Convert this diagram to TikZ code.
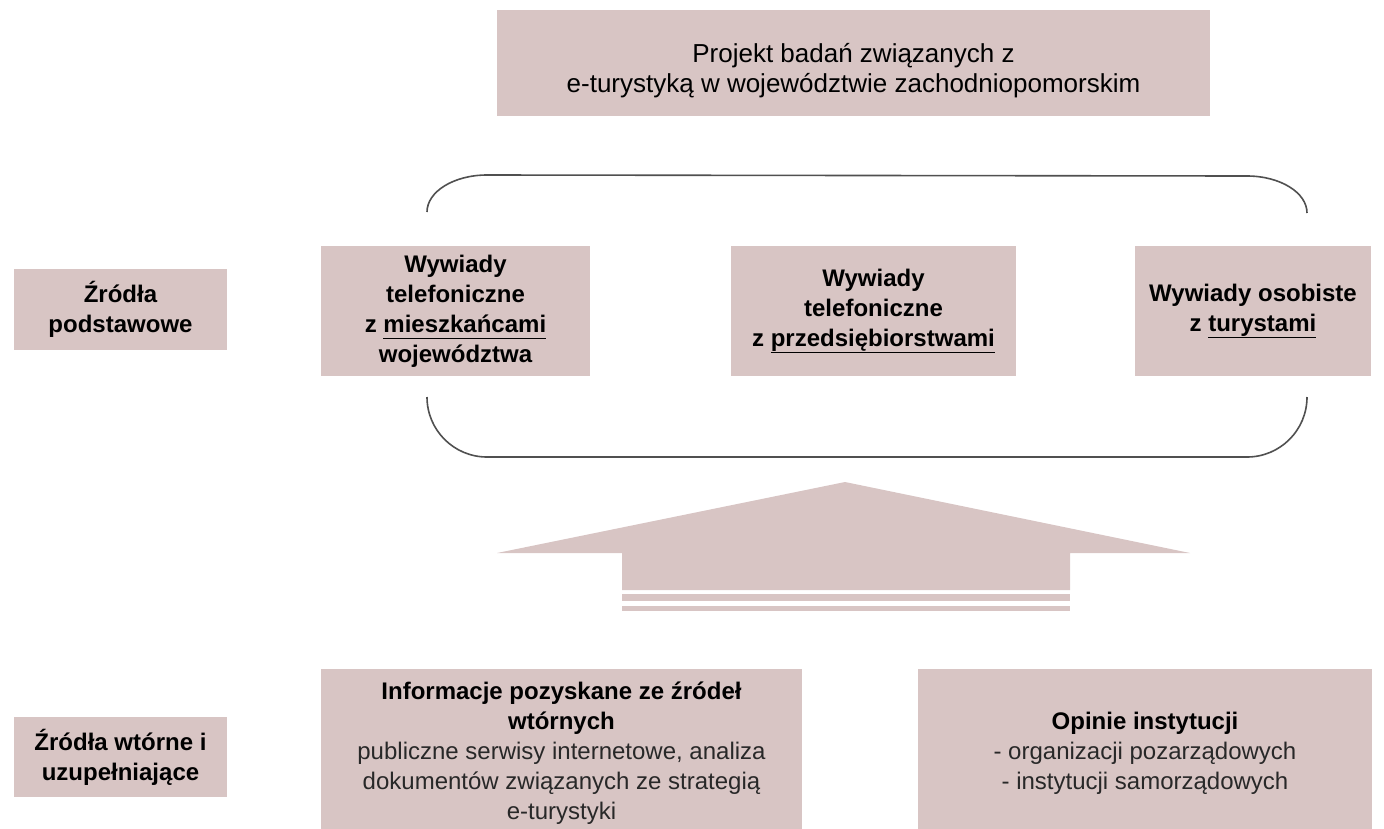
\documentclass[tikz,border=0pt]{standalone}
\usepackage{fontspec}
\setmainfont{Liberation Sans}
\definecolor{boxfill}{RGB}{216,197,196}
\definecolor{braceline}{RGB}{80,80,80}
\definecolor{bodytext}{RGB}{40,40,40}
\newcommand{\ulword}[1]{\underline{\vphantom{pę}#1}}

\begin{document}
\begin{tikzpicture}[x=1pt,y=-1pt,
  panel/.style={fill=boxfill, draw=none, inner sep=0pt, align=center, text=black},
  plaintext/.style={inner sep=0pt, align=center, text=black},
  headfont/.style={font=\fontsize{24}{30}\selectfont\bfseries},
  bodyfont/.style={font=\fontsize{24}{30}\selectfont},
  titlefont/.style={font=\fontsize{26}{30}\selectfont},
  brace/.style={draw=braceline, line width=1.6pt}]
\useasboundingbox (0,0) rectangle (1384,828);
\clip (0,0) rectangle (1384,828);

% title box and its two lines
\node[panel, minimum width=713pt, minimum height=106pt] (title) at (853.5,63) {};
\node[plaintext, titlefont] (titletext) at (853.5,71)
  {Projekt badań związanych z\\e-turystyką w województwie zachodniopomorskim};

% row labels
\node[panel, headfont, minimum width=213pt, minimum height=81pt] (primary) at (120.5,309.5)
  {Źródła\\podstawowe};
\node[panel, headfont, minimum width=213pt, minimum height=80pt] (secondary) at (120.5,757)
  {Źródła wtórne i\\uzupełniające};

% primary sources
\node[panel, headfont, minimum width=269pt, minimum height=130pt] (residents) at (455.5,311)
  {Wywiady\\telefoniczne\\z \ulword{mieszkańcami}\\województwa};
\node[panel, headfont, minimum width=285pt, minimum height=130pt] (firms) at (873.5,311)
  {Wywiady\\telefoniczne\\z \ulword{przedsiębiorstwami}};
\node[panel, headfont, minimum width=236pt, minimum height=130pt] (tourists) at (1253,311)
  {Wywiady osobiste\\z \ulword{turystami}};

% bracket around the interviews
\draw[brace] (427,212) arc[start angle=180, end angle=90, x radius=60pt, y radius=37pt]
  -- (1247,176) arc[start angle=90, end angle=0, x radius=60pt, y radius=37pt];
\draw[brace] (427,397) arc[start angle=180, end angle=270, x radius=60pt, y radius=60pt]
  -- (1247,457) arc[start angle=270, end angle=360, x radius=60pt, y radius=60pt];

% upward arrow
\fill[boxfill] (497,553) -- (845,482) -- (1190,553) -- (1070,553) -- (1070,590)
  -- (622,590) -- (622,553) -- cycle;
\fill[boxfill] (622,594) rectangle (1070,601);
\fill[boxfill] (622,606) rectangle (1070,611);

% secondary sources
\node[panel, bodyfont, text=bodytext, minimum width=481pt, minimum height=168pt] (docs) at (561.5,753)
  {\textcolor{black}{\bfseries Informacje pozyskane ze źródeł}\\\textcolor{black}{\bfseries wtórnych}\\publiczne serwisy internetowe, analiza\\dokumentów związanych ze strategią\\e-turystyki};
\node[panel, bodyfont, text=bodytext, minimum width=454pt, minimum height=168pt] (opinions) at (1145,753)
  {\textcolor{black}{\bfseries Opinie instytucji}\\- organizacji pozarządowych\\- instytucji samorządowych};
\end{tikzpicture}
\end{document}
